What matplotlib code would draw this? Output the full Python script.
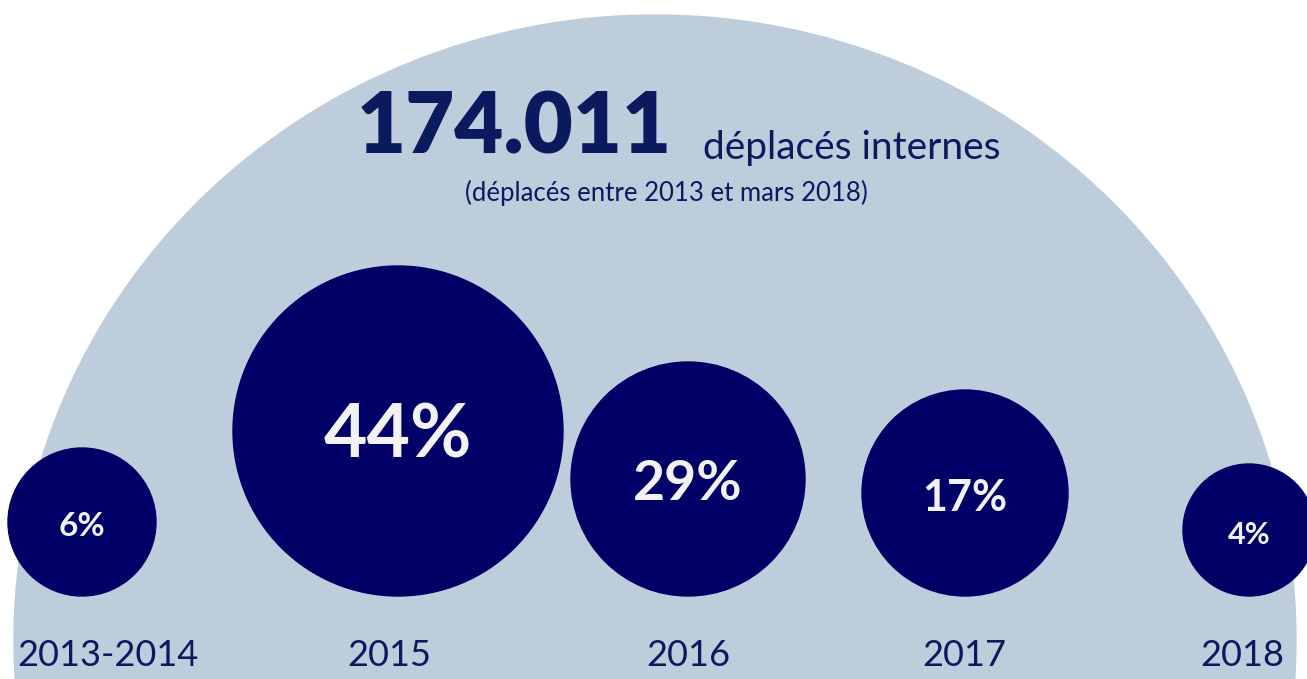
import matplotlib.pyplot as plt
from matplotlib.patches import Circle, Ellipse

# data
years = ["2013-2014", "2015", "2016", "2017", "2018"]
shares = [6, 44, 29, 17, 4]
total = "174.011"
total_label = "déplacés internes"
subtitle = "(déplacés entre 2013 et mars 2018)"

# layout (pixel coords, y down)
W, H = 1307, 679
cx = [82, 398, 688, 965, 1249]
radius = [74, 165, 117, 103, 66]
label_x = [108, 389, 688, 964, 1242]
base_y = 596
pct_size = [24, 54, 40, 31, 22]

navy = "#000066"
text_navy = "#0b1a5e"
light = "#bdcddc"

plt.rcParams['font.family'] = ['Lato', 'DejaVu Sans']

fig = plt.figure(figsize=(W / 100, H / 100), dpi=100)
ax = fig.add_axes([0, 0, 1, 1])
ax.set_xlim(0, W)
ax.set_ylim(H, 0)
ax.axis("off")

# big half ellipse in the background
ax.add_patch(Ellipse((655, 640), 2 * 641, 2 * 625, color=light, zorder=0))

for x, r, v, fs in zip(cx, radius, shares, pct_size):
    cy = base_y - r
    ax.add_patch(Circle((x, cy), r, color=navy, zorder=1))
    ax.text(x, cy + 5, f"{v}%", color="#f2f2f2", fontsize=fs, fontweight="bold",
            ha="center", va="center", zorder=2)

for x, yr in zip(label_x, years):
    ax.text(x, 656, yr, color=text_navy, fontsize=26, ha="center", va="center")

ax.text(357, 128, total, color=text_navy, fontsize=61, fontweight="heavy",
        ha="left", va="center")
ax.text(703, 148, total_label, color=text_navy, fontsize=28, ha="left", va="center")
ax.text(666, 193, subtitle, color=text_navy, fontsize=18.5, ha="center", va="center")

fig.savefig("out.png", dpi=100)
